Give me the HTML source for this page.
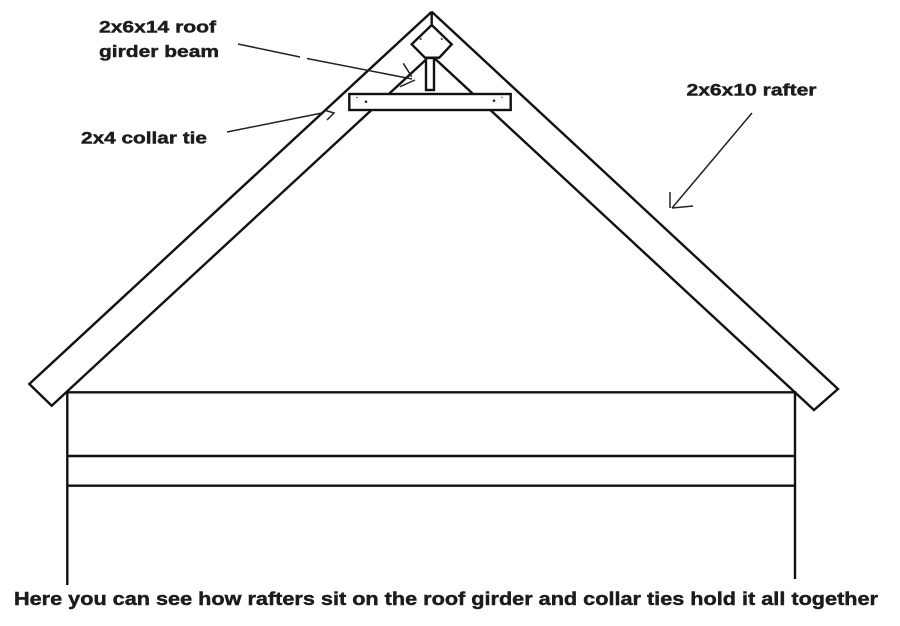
<!DOCTYPE html>
<html><head><meta charset="utf-8"><style>
html,body{margin:0;padding:0;background:#fff;}
svg{display:block;}
text{font-family:"Liberation Sans",Arial,sans-serif;font-weight:bold;fill:#1c1c1c;stroke:#1c1c1c;stroke-width:0.45;}
</style></head><body>
<svg width="900" height="626" viewBox="0 0 900 626" xmlns="http://www.w3.org/2000/svg">
<rect width="900" height="626" fill="#fff"/>
<g stroke="#111" stroke-width="2.4" fill="none" stroke-linejoin="miter" stroke-linecap="butt">
  <polyline points="431.7,11.7 29.3,384 51.7,405.7 431,55"/>
  <polyline points="431.7,11.7 838,389 814,410 431,55"/>
  <line x1="431.7" y1="11.7" x2="431.7" y2="25"/>
  <line x1="67.3" y1="392.3" x2="796" y2="392.3"/>
  <line x1="67.3" y1="456" x2="795" y2="456"/>
  <line x1="67.3" y1="485.7" x2="795" y2="485.7"/>
  <line x1="67.3" y1="391" x2="67.3" y2="585"/>
  <line x1="795" y1="391" x2="795" y2="579"/>
</g>
<g stroke="#111" stroke-width="2.4" fill="#fff">
  <polygon points="431.7,25 451.7,44.3 439.3,57.7 425,57.7 411.7,44.3"/>
  <rect x="426" y="58" width="8" height="32"/>
  <rect x="349.3" y="94" width="161.4" height="16"/>
</g>
<g fill="#333">
  <circle cx="420.7" cy="39" r="1"/>
  <circle cx="441.7" cy="39" r="1"/>
  <circle cx="366" cy="101.7" r="1.3"/>
  <circle cx="494" cy="100.7" r="1.3"/>
  <circle cx="357" cy="97.5" r="0.7"/>
  <circle cx="502" cy="97.5" r="0.7"/>
</g>
<g stroke="#222" stroke-width="1.5" fill="none">
  <line x1="238" y1="44" x2="300" y2="57"/>
  <line x1="307" y1="58.5" x2="412" y2="79"/>
  <line x1="403.3" y1="63.3" x2="411.7" y2="76.7"/>
  <line x1="400" y1="86.7" x2="415" y2="80"/>
  <line x1="227" y1="132" x2="322" y2="113"/>
  <polyline points="324,110 334,113 327,120"/>
  <line x1="752" y1="113" x2="672" y2="208"/>
  <line x1="670" y1="192" x2="670" y2="208"/>
  <line x1="672" y1="208" x2="693" y2="206"/>
</g>
<text x="99" y="32.5" font-size="17" textLength="117" lengthAdjust="spacingAndGlyphs">2x6x14 roof</text>
<text x="99" y="57" font-size="17" textLength="120" lengthAdjust="spacingAndGlyphs">girder beam</text>
<text x="81" y="143.3" font-size="17" textLength="126" lengthAdjust="spacingAndGlyphs">2x4 collar tie</text>
<text x="686.5" y="95.7" font-size="17" textLength="130" lengthAdjust="spacingAndGlyphs">2x6x10 rafter</text>
<text x="14" y="605" font-size="18.5" textLength="864" lengthAdjust="spacingAndGlyphs">Here you can see how rafters sit on the roof girder and collar ties hold it all together</text>
</svg>
</body></html>
